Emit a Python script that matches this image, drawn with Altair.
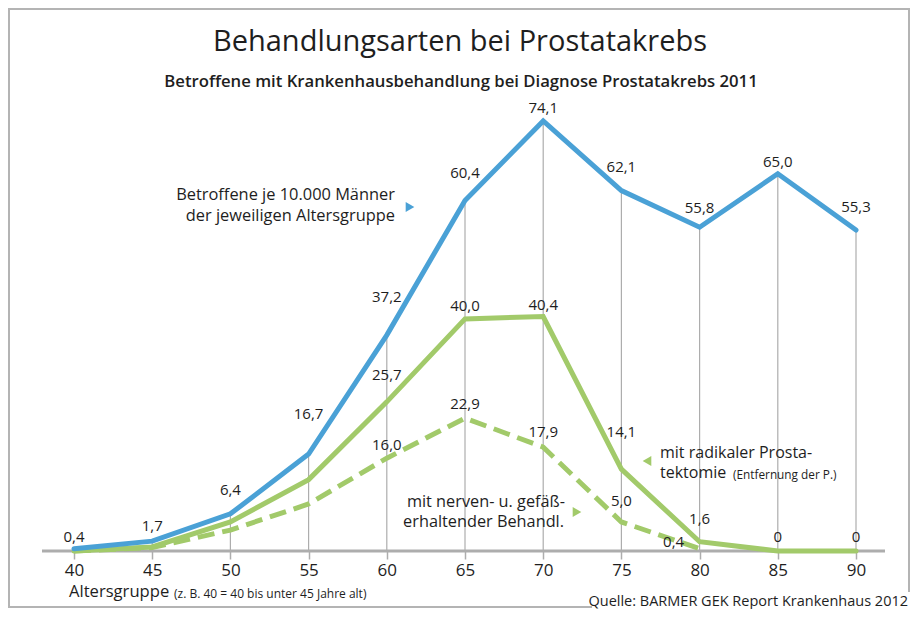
import altair as alt
import pandas as pd

# ---------------- data ----------------
ages = [40, 45, 50, 55, 60, 65, 70, 75, 80, 85, 90]
betroffene = [0.4, 1.7, 6.4, 16.7, 37.2, 60.4, 74.1, 62.1, 55.8, 65.0, 55.3]
radikal = [0.0, 0.7, 5.0, 12.3, 25.7, 40.0, 40.4, 14.1, 1.6, 0.0, 0.0]
nerv_ages = [40, 45, 50, 55, 60, 65, 70, 75, 80]
nerv = [0.0, 0.6, 3.6, 8.1, 16.0, 22.9, 17.9, 5.0, 0.4]

radikal_label_ages = [60, 65, 70, 75, 80, 85, 90]
nerv_label_ages = [60, 65, 70, 75, 80]

# ---------------- layout (label offsets in px) ----------------
blue_dy = [-12, -15, -24, -40, -38, -27, -13, -24, -19, -12, -23]
rad_dy = [-27, -13, -12, -37, -23, -14, -14]
nerv_dy = [-13, -14, -15, -21, -7]
nerv_dx = [0, 0, 0, 0, -26]

PX_PER_Y = 5.803
PX_PER_X = 15.64

BLUE = "#4aa1d6"
GREEN = "#a2ca6a"
TXT = "#1e1e1e"
GRAY = "#adadad"
FRAME = "#b4b4b4"
FONT = "Open Sans"


def fmt(v):
    return "0" if v == 0 else f"{v:.1f}".replace(".", ",")


blue_df = pd.DataFrame({"age": ages, "value": betroffene})
blue_df["label"] = [fmt(v) for v in betroffene]
blue_df["dy"] = blue_dy
blue_df["dx"] = 0
blue_df["zero"] = 0.0

rad_df = pd.DataFrame({"age": ages, "value": radikal})
rad_lab = rad_df[rad_df["age"].isin(radikal_label_ages)].copy()
rad_lab["label"] = [fmt(v) for v in rad_lab["value"]]
rad_lab["dy"] = rad_dy
rad_lab["dx"] = 0

nerv_df = pd.DataFrame({"age": nerv_ages, "value": nerv})
nerv_lab = nerv_df[nerv_df["age"].isin(nerv_label_ages)].copy()
nerv_lab["label"] = [fmt(v) for v in nerv_lab["value"]]
nerv_lab["dy"] = nerv_dy
nerv_lab["dx"] = nerv_dx

labels_df = pd.concat([blue_df[["age", "value", "label", "dy", "dx"]], rad_lab, nerv_lab], ignore_index=True)

xs = alt.Scale(domain=[40, 90], range=[66, 848], nice=False, zero=False)
ys = alt.Scale(domain=[0, 80], range=[543, 543 - 80 * PX_PER_Y], nice=False)

ax = alt.Axis(values=ages, domain=False, grid=False, ticks=True, tickColor=GRAY,
              tickSize=8, tickWidth=1.5, labelFontSize=17, labelFont=FONT,
              labelColor=TXT, labelPadding=3, title=None, format="d",
              labelFlush=False, labelOverlap=False)
X = alt.X("age:Q", scale=xs, axis=ax)
Y = alt.Y("value:Q", scale=ys, axis=None)

one = pd.DataFrame({"d": [0]})

# gridlines from baseline to blue value
grid = alt.Chart(blue_df[blue_df["age"] > 40]).mark_rule(color=GRAY, strokeWidth=1.2).encode(
    x=X, y=Y, y2="zero:Q"
)

baseline = alt.Chart(pd.DataFrame({"value": [0.0]})).mark_rule(color=GRAY, strokeWidth=3).encode(
    x=alt.value(34), x2=alt.value(877), y=Y
)

nerv_line = alt.Chart(nerv_df).mark_line(color=GREEN, strokeWidth=5, strokeDash=[17, 8]).encode(x=X, y=Y)
rad_line = alt.Chart(rad_df).mark_line(color=GREEN, strokeWidth=5, strokeCap="round").encode(x=X, y=Y)
blue_line = alt.Chart(blue_df).mark_line(color=BLUE, strokeWidth=5, strokeCap="round").encode(x=X, y=Y)

val_labels = alt.Chart(labels_df).transform_calculate(
    ly=f"datum.value - datum.dy / {PX_PER_Y}",
    lx=f"datum.age + datum.dx / {PX_PER_X}",
).mark_text(
    font=FONT, fontSize=15, fontWeight=500, color=TXT, baseline="middle", align="center"
).encode(
    x=alt.X("lx:Q", scale=xs, axis=ax),
    y=alt.Y("ly:Q", scale=ys, axis=None),
    text="label:N",
)


def txt(s, x, y, size, align="left", weight="normal", baseline="middle", color=TXT):
    return alt.Chart(pd.DataFrame({"t": [s]})).mark_text(
        align=align, baseline=baseline, fontSize=size, font=FONT, fontWeight=weight, color=color
    ).encode(x=alt.value(x), y=alt.value(y), text="t:N")


def tri(shape, x, y, color):
    return alt.Chart(one).mark_point(shape=shape, filled=True, size=100, color=color, opacity=1).encode(
        x=alt.value(x), y=alt.value(y)
    )


def hrule(x1, x2, y):
    return alt.Chart(one).mark_rule(color=FRAME, strokeWidth=2).encode(
        x=alt.value(x1), x2=alt.value(x2), y=alt.value(y)
    )


def vrule(x, y1, y2):
    return alt.Chart(one).mark_rule(color=FRAME, strokeWidth=2).encode(
        x=alt.value(x), y=alt.value(y1), y2=alt.value(y2)
    )


frame = [hrule(0, 902, 1), vrule(1, 1, 599), hrule(0, 584, 599), vrule(901, 1, 584)]

texts = [
    txt("Behandlungsarten bei Prostatakrebs", 452, 43, 29, align="center", baseline="alphabetic"),
    txt("Betroffene mit Krankenhausbehandlung bei Diagnose Prostatakrebs 2011", 453, 79, 16.7,
        align="center", weight=600, baseline="alphabetic"),
    txt("Betroffene je 10.000 Männer", 387, 186.5, 16.4, align="right"),
    txt("der jeweiligen Altersgruppe", 387, 207.5, 16.4, align="right"),
    tri("triangle-right", 402, 199, BLUE),
    txt("mit radikaler Prosta-", 652, 445, 16),
    txt("tektomie", 652, 465, 16),
    txt("(Entfernung der P.)", 725, 467, 11.8),
    tri("triangle-left", 639, 453, GREEN),
    txt("mit nerven- u. gefäß-", 557, 494, 16.3, align="right"),
    txt("erhaltender Behandl.", 556, 514, 16.3, align="right"),
    tri("triangle-right", 569, 504, GREEN),
    txt("Altersgruppe", 61, 584, 16.6),
    txt("(z. B. 40 = 40 bis unter 45 Jahre alt)", 166, 586, 12),
    txt("Quelle: BARMER GEK Report Krankenhaus 2012", 900, 598, 14.5, align="right", baseline="alphabetic"),
]

chart = alt.layer(
    grid, baseline, nerv_line, rad_line, blue_line, val_labels, *frame, *texts
).properties(
    width=903, height=543,
    padding={"left": 0, "top": 0, "right": 0, "bottom": 58},
    autosize=alt.AutoSizeParams(type="none"),
).configure_view(stroke=None)

chart.save("out.html", embed_options={"renderer": "svg", "actions": False})
